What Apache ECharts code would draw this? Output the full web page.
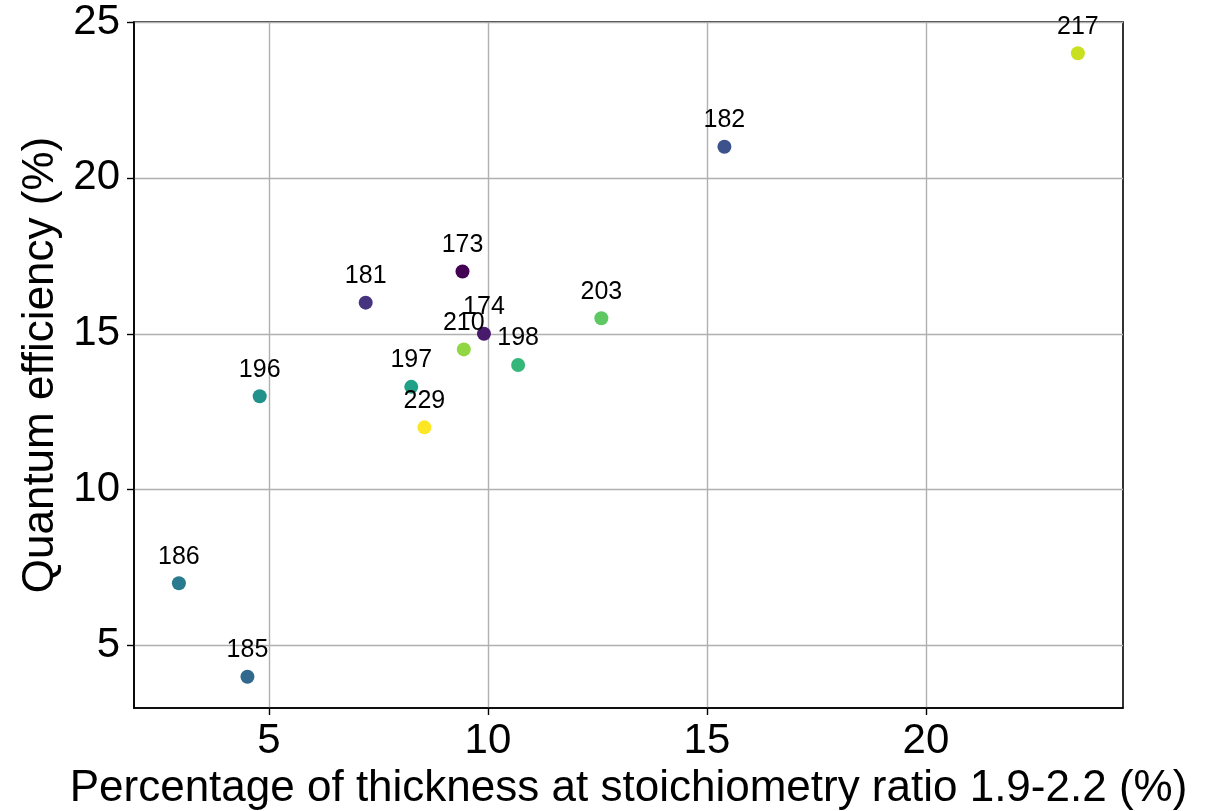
<!DOCTYPE html>
<html>
<head>
<meta charset="utf-8">
<script src="https://cdn.jsdelivr.net/npm/echarts@6/dist/echarts.min.js"></script>
<style>html,body{margin:0;padding:0;background:#fff}#c{width:1216px;height:811px}</style>
</head>
<body>
<div id="c"></div>
<script>
const pointLabels = [173, 174, 181, 182, 185, 186, 196, 197, 198, 203, 210, 217, 229];
const xValues = [9.42, 9.91, 7.21, 15.40, 4.51, 2.945, 4.79, 8.25, 10.69, 12.59, 9.45, 23.47, 8.55];
const yValues = [17.0, 15.0, 16.0, 21.0, 4.0, 7.0, 13.0, 13.3, 14.0, 15.5, 14.5, 24.0, 12.0];
const xTicks = [5, 10, 15, 20];
const yTicks = [5, 10, 15, 20, 25];
const xRange = [1.92, 24.5];
const yRange = [3, 25];

const viridis = ['#440154','#481a6c','#463480','#3b528b','#31688e','#297a8e','#21918c','#1fa188','#35b779','#5ec962','#90d743','#c8e020','#fde725'];
const sorted = pointLabels.slice().sort((a,b)=>a-b);
const font = '"Liberation Sans", Arial, sans-serif';

const data = pointLabels.map((lab, i) => ({
  value: [xValues[i], yValues[i]],
  name: String(lab),
  itemStyle: { color: viridis[Math.round(sorted.indexOf(lab) / (sorted.length - 1) * (viridis.length - 1))], opacity: 1 }
}));

const chart = echarts.init(document.getElementById('c'), null, { renderer: 'canvas' });
chart.setOption({
  animation: false,
  backgroundColor: '#fff',
  grid: { left: 134, right: 93, top: 22, bottom: 103, outerBoundsMode: 'none', containLabel: false, show: true, borderColor: '#000', borderWidth: 1.6, backgroundColor: 'transparent' },
  xAxis: {
    type: 'value', min: xRange[0], max: xRange[1],
    name: 'Percentage of thickness at stoichiometry ratio 1.9-2.2 (%)',
    nameLocation: 'middle', nameGap: 55,
    nameTextStyle: { fontFamily: font, fontSize: 44, color: '#000' },
    axisLine: { show: true, onZero: false, lineStyle: { color: '#000', width: 1.6 } },
    axisTick: { show: true, inside: false, length: 7, customValues: xTicks, lineStyle: { color: '#000', width: 1.4 } },
    axisLabel: { customValues: xTicks, margin: 12, fontFamily: font, fontSize: 42, color: '#000' },
    splitLine: { show: true, lineStyle: { color: '#b0b0b0', width: 1.4 } }
  },
  yAxis: {
    type: 'value', min: yRange[0], max: yRange[1],
    name: 'Quantum efficiency (%)',
    nameLocation: 'middle', nameGap: 71, nameRotate: 90,
    nameTextStyle: { fontFamily: font, fontSize: 44, color: '#000' },
    axisLine: { show: true, onZero: false, lineStyle: { color: '#000', width: 1.6 } },
    axisTick: { show: true, inside: false, length: 7, customValues: yTicks, lineStyle: { color: '#000', width: 1.4 } },
    axisLabel: { customValues: yTicks, margin: 14, fontFamily: font, fontSize: 42, color: '#000' },
    splitLine: { show: true, lineStyle: { color: '#b0b0b0', width: 1.4 } }
  },
  series: [{
    type: 'scatter',
    symbolSize: 14,
    data: data,
    emphasis: { disabled: true },
    label: {
      show: true, position: 'top', distance: 7,
      formatter: p => p.name,
      fontFamily: font, fontSize: 25, color: '#000', textBorderWidth: 0
    },
    labelLayout: { hideOverlap: false }
  }]
});
</script>
</body>
</html>
